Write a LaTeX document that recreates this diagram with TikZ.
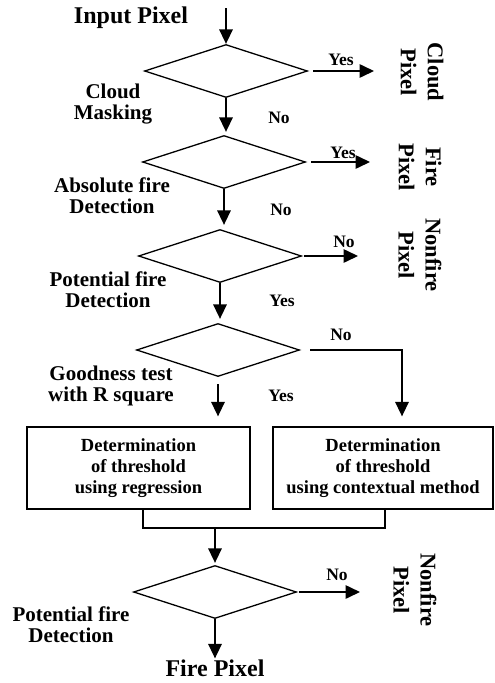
\documentclass[tikz,border=0pt]{standalone}
\usepackage{fontspec}
\setmainfont{Liberation Serif}
\usetikzlibrary{arrows.meta,shapes.geometric}
\tikzset{
  fddec/.style={draw,diamond,line width=1.3pt,minimum width=163pt,
    minimum height=53pt,inner sep=0pt},
  fdbox/.style={draw,rectangle,line width=1.3pt,align=center,
    minimum height=82pt,font=\fontsize{18.5}{21}\selectfont\bfseries},
  fdside/.style={align=center,inner sep=0pt,font=\fontsize{21}{21}\selectfont\bfseries},
  fdtitle/.style={inner sep=0pt,font=\fontsize{24}{26}\selectfont\bfseries},
  fdans/.style={inner sep=0pt,font=\fontsize{17.5}{18}\selectfont\bfseries},
  fdout/.style={align=center,inner sep=0pt,rotate=-90,
    font=\fontsize{22.5}{27}\selectfont\bfseries},
  fdline/.style={line width=1.6pt},
  fdflow/.style={fdline,-{Triangle[length=14.5pt,width=13.5pt]}},
}
\begin{document}
\begin{tikzpicture}[x=1pt,y=1pt]
\useasboundingbox (0,0) rectangle (495,-683);
% Decision diamonds down the main column
\node[fddec] (d1) at (226,-71) {};
\node[fddec] (d2) at (224,-162) {};
\node[fddec] (d3) at (220,-256) {};
\node[fddec] (d4) at (218,-350) {};
\node[fddec] (d5) at (215,-592) {};
% Threshold boxes
\node[fdbox,minimum width=223pt] (reg) at (138.5,-468)
  {Determination\\of threshold\\using regression};
\node[fdbox,minimum width=220pt] (ctx) at (383,-468)
  {Determination\\of threshold\\using contextual method};
% Start and end
\node[fdtitle] (inpx) at (131,-18) {Input Pixel};
\node[fdtitle] (firepx) at (215,-668) {Fire Pixel};
% Names of the tests
\node[fdside] (lcloud) at (113,-104) {Cloud\\Masking};
\node[fdside] (labs) at (112,-196) {Absolute fire\\Detection};
\node[fdside] (lpot) at (108,-290) {Potential fire\\Detection};
\node[fdside] (lgood) at (111,-386) {Goodness test\\with R square};
\node[fdside] (lpot2) at (71,-625) {Potential fire\\Detection};
% Outcomes, set sideways
\node[fdout] (cloudpx) at (422,-72) {Cloud\\Pixel};
\node[fdout] (firepx1) at (420,-167) {Fire\\Pixel};
\node[fdout] (nonfire1) at (420,-255) {Nonfire\\Pixel};
\node[fdout] (nonfire2) at (415,-590) {Nonfire\\Pixel};
% Answers
\node[fdans] (y1) at (341,-60) {Yes};
\node[fdans] (n1) at (279,-118) {No};
\node[fdans] (y2) at (343,-153) {Yes};
\node[fdans] (n2) at (281,-210) {No};
\node[fdans] (n3) at (344,-242) {No};
\node[fdans] (y3) at (282,-301) {Yes};
\node[fdans] (n4) at (341,-335) {No};
\node[fdans] (y4) at (281,-396) {Yes};
\node[fdans] (n5) at (337,-575) {No};
% Free ends of the arrows
\coordinate (inp) at (226,-8);
\coordinate (e1) at (374,-71);
\coordinate (e2) at (370,-162);
\coordinate (e3) at (358,-256);
\coordinate (e5) at (360,-592);
\coordinate (join) at (215,-528);
\draw[fdflow] (inp) -- (d1.north);
\draw[fdflow,shorten <=5pt] (d1.east) -- (e1);
\draw[fdflow,shorten >=3pt] (d1.south) -- (d1.south |- d2.north);
\draw[fdflow,shorten <=5pt] (d2.east) -- (e2);
\draw[fdflow,shorten >=4pt] (d2.south) -- (d2.south |- d3.north);
\draw[fdflow,shorten <=2pt] (d3.east) -- (e3);
\draw[fdflow,shorten >=4pt] (d3.south) -- (d3.south |- d4.north);
\draw[fdflow,shorten <=10pt,shorten >=10pt] (d4.east) -| ([xshift=19pt]ctx.north);
\draw[fdflow,shorten <=7pt,shorten >=10pt] (d4.south) -- (d4.south |- reg.north);
\draw[fdline] ([xshift=4.5pt]reg.south) |- (join) -| ([xshift=2pt]ctx.south);
\draw[fdflow,shorten >=2pt] (join) -- (d5.north);
\draw[fdflow,shorten <=2pt] (d5.east) -- (e5);
\draw[fdflow,shorten >=1pt] (d5.south) -- (firepx.north);
\end{tikzpicture}
\end{document}
